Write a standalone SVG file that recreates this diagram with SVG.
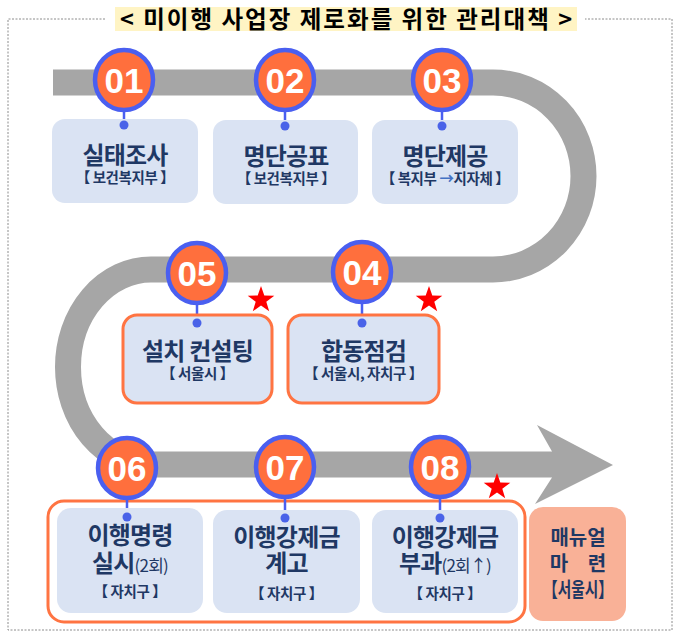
<svg xmlns="http://www.w3.org/2000/svg" width="680" height="633" viewBox="0 0 680 633">
<defs>
<style>
.frame{fill:none;stroke:#8c8c8c;stroke-width:1;stroke-dasharray:2 1.5}
.track{fill:none;stroke:#a6a6a6;stroke-width:26}
.arrowhead{fill:#a6a6a6}
.box{fill:#dae3f3}
.boxo{fill:#dae3f3;stroke:#ff7442;stroke-width:3}
.grp{fill:none;stroke:#ff7442;stroke-width:3}
.manual{fill:#f9b197}
.badge{fill:#ff6f3d;stroke:#4a5ff0;stroke-width:4.5}
.num{font-family:"Liberation Sans",Arial,sans-serif;font-weight:bold;font-size:35px;fill:#fff;text-anchor:middle}
.stem{stroke:#4a5ff0;stroke-width:2.5}
.dot{fill:#4a63e8}
.lbl{font-family:"Noto Sans CJK KR","Noto Sans",sans-serif;font-weight:bold;font-size:24px;fill:#1f3864;text-anchor:middle;letter-spacing:-0.8px}
.sub{font-family:"Noto Sans CJK KR","Noto Sans",sans-serif;font-weight:bold;font-size:14.5px;fill:#1f3864;text-anchor:middle;letter-spacing:-0.4px}
.sm{font-size:17px;font-weight:normal}
.mn{font-family:"Noto Sans CJK KR","Noto Sans",sans-serif;font-weight:bold;font-size:20px;fill:#1f3864;text-anchor:middle}
.title{font-family:"Noto Sans CJK KR","Noto Sans",sans-serif;font-weight:bold;font-size:23.5px;fill:#000;text-anchor:middle}
.star{fill:#ff0000}
</style>
<polygon id="starShape" points="0,-14 3.3,-4.5 13.3,-4.3 5.3,1.7 8.2,11.3 0,5.6 -8.2,11.3 -5.3,1.7 -13.3,-4.3 -3.3,-4.5"/>
</defs>
<rect width="680" height="633" fill="#fff"/>
<g id="frame">
<path class="frame" d="M105,19 H8 V630 H672 V19 H585"/>
<rect x="115" y="7" width="462" height="24" fill="#fff4c4"/>
<text class="title" x="346" y="27.5" textLength="452" lengthAdjust="spacing">&lt; 미이행 사업장 제로화를 위한 관리대책 &gt;</text>
</g>
<g id="track">
<path class="track" d="M53,82.5 H493 A90.5,93.5 0 0 1 493,269.5 H151 A83,97.5 0 0 0 151,464.5 H553"/>
<polygon class="arrowhead" points="537,425 613,465 535,504 552,477.5 552,451.5"/>
</g>
<g id="group-box">
<rect class="grp" x="48" y="501" width="477" height="121" rx="16"/>
</g>
<g id="connectors">
<line class="stem" x1="124" y1="112" x2="124" y2="125"/>
<line class="stem" x1="285" y1="112" x2="285" y2="126"/>
<line class="stem" x1="442" y1="112" x2="442" y2="126"/>
<line class="stem" x1="362" y1="304" x2="362" y2="323"/>
<line class="stem" x1="197" y1="305" x2="197" y2="323"/>
<line class="stem" x1="127" y1="500" x2="127" y2="517"/>
<line class="stem" x1="285" y1="499" x2="285" y2="518"/>
<line class="stem" x1="440" y1="499" x2="440" y2="518"/>
</g>
<g id="step01">
<rect class="box" x="52" y="119" width="146" height="84" rx="13"/>
<ellipse class="badge" cx="124" cy="80" rx="29" ry="30"/>
<text class="num" x="124" y="92.5">01</text>
<circle class="dot" cx="124" cy="125" r="4.5"/>
<text class="lbl" x="125" y="164">실태조사</text>
<text class="sub" x="125" y="183">【 보건복지부 】</text>
</g>
<g id="step02">
<rect class="box" x="213" y="120" width="145" height="84" rx="13"/>
<ellipse class="badge" cx="285" cy="80" rx="29" ry="30"/>
<text class="num" x="285" y="92.5">02</text>
<circle class="dot" cx="285" cy="126" r="4.5"/>
<text class="lbl" x="286" y="164.5">명단공표</text>
<text class="sub" x="286" y="184">【 보건복지부 】</text>
</g>
<g id="step03">
<rect class="box" x="372" y="120" width="146" height="84" rx="13"/>
<ellipse class="badge" cx="442" cy="80" rx="29" ry="30"/>
<text class="num" x="442" y="92.5">03</text>
<circle class="dot" cx="442" cy="126" r="4.5"/>
<text class="lbl" x="445" y="164.5">명단제공</text>
<text class="sub" x="445" y="184">【 복지부 <tspan fill="#4472c4">→</tspan>지자체 】</text>
</g>
<g id="step04">
<rect class="boxo" x="288" y="315" width="151" height="88" rx="14"/>
<ellipse class="badge" cx="362" cy="272" rx="29" ry="30"/>
<text class="num" x="362" y="284.5">04</text>
<circle class="dot" cx="362" cy="323" r="4.5"/>
<text class="lbl" x="363.5" y="360">합동점검</text>
<text class="sub" x="363.5" y="379">【 서울시, 자치구 】</text>
<use href="#starShape" class="star" x="429" y="300"/>
</g>
<g id="step05">
<rect class="boxo" x="123" y="315" width="149" height="88" rx="14"/>
<ellipse class="badge" cx="197" cy="273" rx="29" ry="30"/>
<text class="num" x="197" y="285.5">05</text>
<circle class="dot" cx="197" cy="323" r="4.5"/>
<text class="lbl" x="197.5" y="360">설치 컨설팅</text>
<text class="sub" x="197.5" y="379">【 서울시 】</text>
<use href="#starShape" class="star" x="261" y="300"/>
</g>
<g id="step06">
<rect class="box" x="57" y="508" width="146" height="105" rx="14"/>
<ellipse class="badge" cx="127" cy="468" rx="29" ry="30"/>
<text class="num" x="127" y="480.5">06</text>
<circle class="dot" cx="127" cy="517" r="4.5"/>
<text class="lbl" x="130" y="544">이행명령</text>
<text class="lbl" x="130" y="572">실시<tspan class="sm">(2회)</tspan></text>
<text class="sub" x="130" y="597">【 자치구 】</text>
</g>
<g id="step07">
<rect class="box" x="213" y="510" width="147" height="103" rx="14"/>
<ellipse class="badge" cx="285" cy="467" rx="29" ry="30"/>
<text class="num" x="285" y="479.5">07</text>
<circle class="dot" cx="285" cy="518" r="4.5"/>
<text class="lbl" x="286.5" y="546">이행강제금</text>
<text class="lbl" x="286.5" y="572">계고</text>
<text class="sub" x="286.5" y="599">【 자치구 】</text>
</g>
<g id="step08">
<rect class="box" x="372" y="510" width="146" height="103" rx="14"/>
<ellipse class="badge" cx="440" cy="467" rx="29" ry="30"/>
<text class="num" x="440" y="479.5">08</text>
<circle class="dot" cx="440" cy="518" r="4.5"/>
<text class="lbl" x="445" y="546">이행강제금</text>
<text class="lbl" x="445" y="572">부과<tspan class="sm">(2회↑)</tspan></text>
<text class="sub" x="445" y="599">【 자치구 】</text>
<use href="#starShape" class="star" x="497" y="487"/>
</g>
<g id="manual">
<rect class="manual" x="529" y="507" width="97" height="114" rx="14"/>
<text class="mn" x="578" y="545">매뉴얼</text>
<text class="mn" y="571"><tspan x="559">마</tspan><tspan x="597">련</tspan></text>
<text class="mn" x="578" y="597" textLength="70" lengthAdjust="spacingAndGlyphs">【서울시】</text>
</g>
</svg>
